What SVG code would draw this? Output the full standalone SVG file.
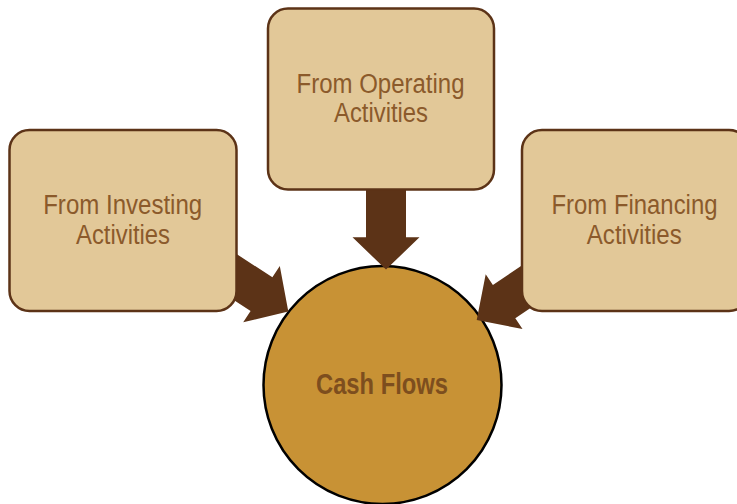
<svg xmlns="http://www.w3.org/2000/svg" width="737" height="504" viewBox="0 0 737 504">
<style>
.box{fill:#E2C898;stroke:#5C3317;stroke-width:2.5}
.lbl{font-family:"Liberation Sans",Arial,sans-serif;font-size:27px;fill:#8B5A2B;text-anchor:middle}
.arrow{fill:#5C3317}
.core{fill:#C89235;stroke:#000;stroke-width:2.5}
.clbl{font-family:"Liberation Sans",Arial,sans-serif;font-size:29px;font-weight:bold;fill:#7D4E1E;text-anchor:middle}
</style>
<rect width="737" height="504" fill="#fff"/>
<g id="cash-flows">
<circle class="core" cx="382.5" cy="385" r="119"/>
<text class="clbl" x="382" y="394" textLength="132" lengthAdjust="spacingAndGlyphs">Cash Flows</text>
</g>
<g id="connectors">
<polygon class="arrow" points="366,180 406,180 406,237.3 419.5,237.3 386,269.5 352.5,237.3 366,237.3"/>
<polygon class="arrow" points="222.1,244.6 272.4,277.3 279.8,266 288.3,311.5 243.2,322.2 250.6,310.9 200.3,278.2"/>
<polygon class="arrow" points="542.6,251.5 492.9,285 485.7,274.2 476.7,320 522.5,329 515.3,318.2 565,284.7"/>
</g>
<g id="operating">
<rect class="box" x="268" y="8.5" width="226" height="181" rx="20"/>
<text class="lbl" x="380.5" y="92.7" textLength="168" lengthAdjust="spacingAndGlyphs">From Operating</text>
<text class="lbl" x="381" y="121.7" textLength="94" lengthAdjust="spacingAndGlyphs">Activities</text>
</g>
<g id="investing">
<rect class="box" x="9.5" y="130" width="227" height="181" rx="20"/>
<text class="lbl" x="122.7" y="214.3" textLength="159" lengthAdjust="spacingAndGlyphs">From Investing</text>
<text class="lbl" x="123" y="244" textLength="94" lengthAdjust="spacingAndGlyphs">Activities</text>
</g>
<g id="financing">
<rect class="box" x="522" y="130" width="227" height="181" rx="20"/>
<text class="lbl" x="634.5" y="214.3" textLength="166" lengthAdjust="spacingAndGlyphs">From Financing</text>
<text class="lbl" x="634.3" y="244" textLength="95" lengthAdjust="spacingAndGlyphs">Activities</text>
</g>
</svg>
